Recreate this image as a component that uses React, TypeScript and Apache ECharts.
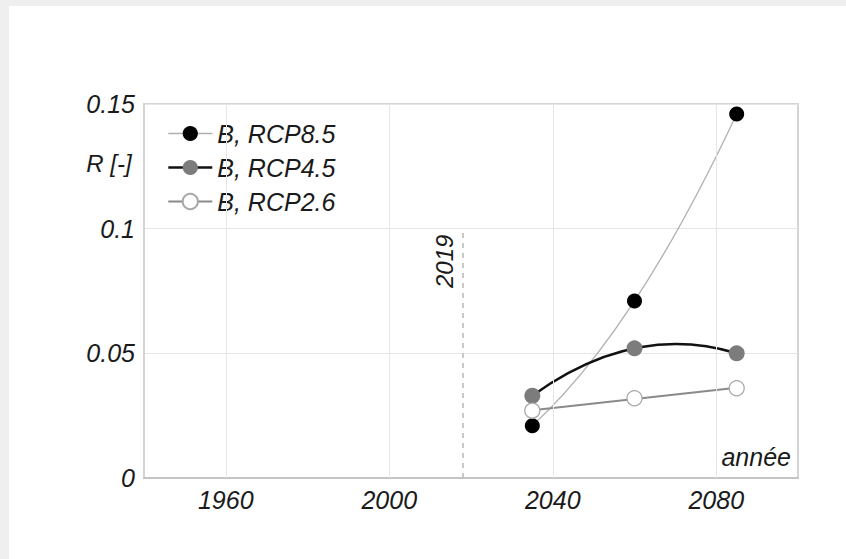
import React, { useEffect, useRef } from "react";
import * as echarts from "echarts";

const years = [2035, 2060, 2085];
const rcp85 = [0.021, 0.071, 0.146];
const rcp45 = [0.033, 0.052, 0.05];
const rcp26 = [0.027, 0.032, 0.036];
const seriesNames = ["B, RCP8.5", "B, RCP4.5", "B, RCP2.6"];
const xTickLabels = [1960, 2000, 2040, 2080];
const markerYear = 2018;
const markerLabel = "2019";
const yName = "R [-]";
const xName = "année";

const FONT = "Liberation Sans";

const lineColors = ["#b0b0b0", "#111111", "#8a8a8a"];
const lineWidths = [1.3, 2.6, 2];

// order-2 trend curve through the three points, drawn as a quadratic Bezier in pixel space
function quadTrend(vals: number[], color: string, width: number) {
  return (_params: any, api: any) => {
    const p = years.map((y, i) => api.coord([y, vals[i]]));
    const cx = 2 * p[1][0] - 0.5 * (p[0][0] + p[2][0]);
    const cy = 2 * p[1][1] - 0.5 * (p[0][1] + p[2][1]);
    return {
      type: "bezierCurve",
      shape: { x1: p[0][0], y1: p[0][1], x2: p[2][0], y2: p[2][1], cpx1: cx, cpy1: cy },
      style: { stroke: color, lineWidth: width, fill: "none" },
    };
  };
}

// linear (least squares) trend line
function linTrend(vals: number[], color: string, width: number) {
  return (_params: any, api: any) => {
    const n = years.length;
    const mx = years.reduce((a, b) => a + b, 0) / n;
    const my = vals.reduce((a, b) => a + b, 0) / n;
    let sxy = 0;
    let sxx = 0;
    years.forEach((x, i) => {
      sxy += (x - mx) * (vals[i] - my);
      sxx += (x - mx) * (x - mx);
    });
    const b = sxy / sxx;
    const f = (x: number) => my + b * (x - mx);
    const a0 = api.coord([years[0], f(years[0])]);
    const a1 = api.coord([years[n - 1], f(years[n - 1])]);
    return {
      type: "line",
      shape: { x1: a0[0], y1: a0[1], x2: a1[0], y2: a1[1] },
      style: { stroke: color, lineWidth: width, fill: "none" },
    };
  };
}

export default function App() {
  const ref = useRef<HTMLDivElement>(null);
  useEffect(() => {
    if (!ref.current) return;
    const chart = echarts.init(ref.current, undefined, { renderer: "svg" });
    const pair = (vals: number[]) => years.map((y, i) => [y, vals[i]]);
    const labelStyle = {
      fontFamily: FONT,
      fontStyle: "italic" as const,
      fontSize: 25,
      color: "#1a1a1a",
    };
    chart.setOption({
      animation: false,
      backgroundColor: "#ffffff",
      grid: {
        left: 135,
        top: 98,
        right: 48,
        bottom: 81,
        show: true,
        borderColor: "#d4d4d4",
        borderWidth: 2,
      },
      legend: {
        orient: "vertical",
        left: 158,
        top: 115,
        itemWidth: 44,
        itemHeight: 19,
        itemGap: 9,
        padding: 0,
        textStyle: { ...labelStyle },
        data: seriesNames.map((name, i) => ({
          name,
          lineStyle: { color: lineColors[i], width: lineWidths[i], opacity: 1 },
        })),
      },
      xAxis: {
        type: "value",
        min: 1940,
        max: 2100,
        interval: 20,
        axisLine: { show: true, lineStyle: { color: "#c4c4c4", width: 2 } },
        axisTick: { show: false },
        splitLine: { show: false },
        axisLabel: {
          ...labelStyle,
          margin: 9,
          formatter: (v: number) => (xTickLabels.indexOf(v) >= 0 ? String(v) : ""),
        },
      },
      yAxis: {
        type: "value",
        min: 0,
        max: 0.15,
        interval: 0.05,
        axisLine: { show: true, lineStyle: { color: "#d4d4d4", width: 2 } },
        axisTick: { show: false },
        splitLine: { show: true, lineStyle: { color: "#e6e6e6", width: 1 } },
        axisLabel: {
          ...labelStyle,
          margin: 9,
          formatter: (v: number) => String(parseFloat(v.toFixed(2))),
        },
      },
      graphic: [
        {
          type: "text",
          x: 100,
          y: 157,
          style: {
            text: yName,
            align: "center",
            verticalAlign: "middle",
            font: `italic 24px "${FONT}"`,
            fill: "#1a1a1a",
          },
        },
        {
          type: "text",
          x: 782,
          y: 451,
          style: {
            text: xName,
            align: "right",
            verticalAlign: "middle",
            font: `italic 25px "${FONT}"`,
            fill: "#1a1a1a",
          },
        },
      ],
      series: [
        {
          name: "__grid",
          type: "line",
          data: [],
          silent: true,
          markLine: {
            silent: true,
            symbol: "none",
            label: { show: false },
            lineStyle: { color: "#e6e6e6", width: 1, type: "solid" },
            data: xTickLabels.map((v) => ({ xAxis: v })),
          },
        },
        {
          name: "__marker",
          type: "line",
          data: [],
          silent: true,
          markLine: {
            silent: true,
            symbol: "none",
            lineStyle: { color: "#b8b8b8", width: 1.5, type: [5, 5] },
            label: {
              show: true,
              formatter: markerLabel,
              position: "insideEndTop",
              distance: 6,
              fontFamily: FONT,
              fontStyle: "italic",
              fontSize: 24,
              color: "#1a1a1a",
            },
            data: [[{ coord: [markerYear, 0] }, { coord: [markerYear, 0.1] }]],
          },
        },
        {
          name: "__trend85",
          type: "custom",
          silent: true,
          data: [[years[1], rcp85[1]]],
          renderItem: quadTrend(rcp85, lineColors[0], lineWidths[0]),
        },
        {
          name: "__trend45",
          type: "custom",
          silent: true,
          data: [[years[1], rcp45[1]]],
          renderItem: quadTrend(rcp45, lineColors[1], lineWidths[1]),
        },
        {
          name: "__trend26",
          type: "custom",
          silent: true,
          data: [[years[1], rcp26[1]]],
          renderItem: linTrend(rcp26, lineColors[2], lineWidths[2]),
        },
        {
          name: seriesNames[0],
          type: "line",
          data: pair(rcp85),
          symbol: "circle",
          symbolSize: 15,
          lineStyle: { color: lineColors[0], width: lineWidths[0], opacity: 0 },
          itemStyle: { color: "#000000", borderWidth: 0 },
        },
        {
          name: seriesNames[1],
          type: "line",
          data: pair(rcp45),
          symbol: "circle",
          symbolSize: 16,
          lineStyle: { color: lineColors[1], width: lineWidths[1], opacity: 0 },
          itemStyle: { color: "#7c7c7c", borderWidth: 0 },
        },
        {
          name: seriesNames[2],
          type: "line",
          data: pair(rcp26),
          symbol: "circle",
          symbolSize: 15,
          lineStyle: { color: lineColors[2], width: lineWidths[2], opacity: 0 },
          itemStyle: { color: "#ffffff", borderColor: "#a8a8a8", borderWidth: 1.3 },
        },
      ],
    });
    return () => chart.dispose();
  }, []);
  return (
    <div
      style={{
        position: "fixed",
        left: 0,
        top: 0,
        width: 846,
        height: 559,
        background: "#efefef",
      }}
    >
      <div
        ref={ref}
        style={{ position: "absolute", left: 9, top: 6, width: 837, height: 553 }}
      />
    </div>
  );
}
